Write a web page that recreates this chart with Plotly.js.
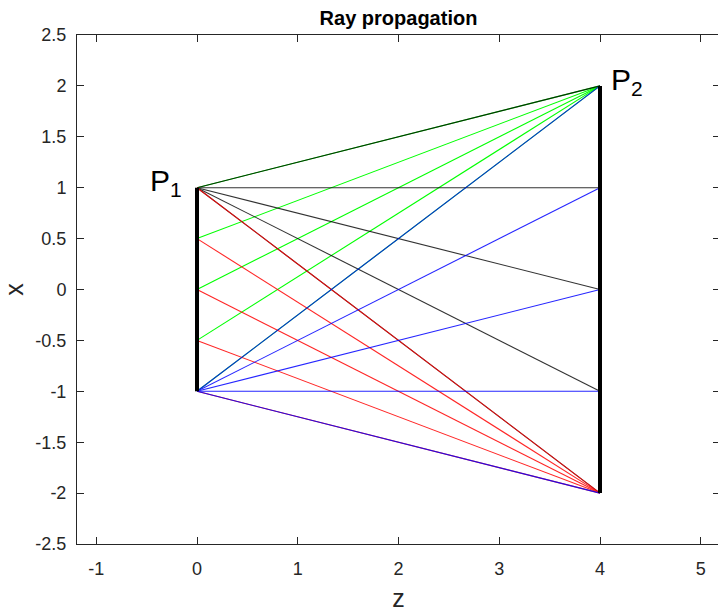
<!DOCTYPE html>
<html>
<head>
<meta charset="utf-8">
<script src="https://cdn.plot.ly/plotly-3.0.1.min.js"></script>
<style>
html,body{margin:0;padding:0;overflow:hidden;background:#fff;}
#chart{width:722px;height:612px;}
</style>
</head>
<body>
<div id="chart"></div>
<script>
// Aperture positions (z) and sampled points (x)
const z1 = 0;
const z2 = 4;
const p1Points = [1, 0.5, 0, -0.5, -1];
const p2Points = [2, 1, 0, -1, -2];
const xTickVals = [-1, 0, 1, 2, 3, 4, 5];
const xTickText = ["-1", "0", "1", "2", "3", "4", "5"];
const yTickVals = [-2.5, -2, -1.5, -1, -0.5, 0, 0.5, 1, 1.5, 2, 2.5];
const yTickText = ["-2.5", "-2", "-1.5", "-1", "-0.5", "0", "0.5", "1", "1.5", "2", "2.5"];

function fan(fromZ, fromXs, toZ, toXs) {
  const xs = [], ys = [];
  for (const a of fromXs) {
    for (const b of toXs) {
      xs.push(fromZ, toZ, null);
      ys.push(a, b, null);
    }
  }
  return {x: xs, y: ys};
}

const p1Top = p1Points[0];
const p1Bot = p1Points[p1Points.length - 1];
const p2Top = p2Points[0];
const p2Bot = p2Points[p2Points.length - 1];

const greenRays = fan(z1, p1Points, z2, [p2Top]);
const redRays = fan(z1, p1Points, z2, [p2Bot]);
const blackRays = fan(z1, [p1Top], z2, p2Points);
const blueRays = fan(z1, [p1Bot], z2, p2Points);

function lineTrace(d, color, width, opacity) {
  return {x: d.x, y: d.y, mode: 'lines', type: 'scatter', hoverinfo: 'skip',
    line: {color: color, width: width}, opacity: opacity === undefined ? 1 : opacity, showlegend: false};
}

const traces = [
  lineTrace(greenRays, '#00ff00', 1.1),
  lineTrace(blackRays, '#000000', 1.1, 0.8),
  lineTrace(redRays, '#ff0000', 1.1, 0.85),
  lineTrace(blueRays, '#0000ff', 1.1, 0.85),
  lineTrace({x: [z1, z1, null, z2, z2], y: [p1Top, p1Bot, null, p2Top, p2Bot]}, '#000000', 4)
];

const tickFont = {family: 'Arial, "Liberation Sans", Helvetica, sans-serif', size: 18, color: '#262626'};
const layout = {
  width: 722, height: 612,
  margin: {l: 77, r: 2, t: 35, b: 68},
  paper_bgcolor: '#ffffff', plot_bgcolor: '#ffffff',
  showlegend: false,
  title: {text: '<b>Ray propagation</b>', font: {family: 'Arial, "Liberation Sans", sans-serif', size: 20, color: '#000'},
    x: 0.5, xref: 'paper', y: 0.97, yref: 'container', yanchor: 'middle'},
  xaxis: {
    range: [-1.191, 5.191], tickvals: xTickVals, ticktext: xTickText,
    ticks: 'inside', ticklen: 7, tickwidth: 1, tickcolor: '#262626',
    showline: true, linecolor: '#262626', linewidth: 1, mirror: 'ticks',
    showgrid: false, zeroline: false, tickfont: tickFont, ticklabelstandoff: 8,
    title: {text: 'z', font: {family: 'Arial, "Liberation Sans", sans-serif', size: 25, color: '#262626'}, standoff: 14}
  },
  yaxis: {
    range: [-2.5, 2.5], tickvals: yTickVals, ticktext: yTickText,
    ticks: 'inside', ticklen: 7, tickwidth: 1, tickcolor: '#262626',
    showline: true, linecolor: '#262626', linewidth: 1, mirror: 'ticks',
    showgrid: false, zeroline: false, tickfont: tickFont, ticklabelstandoff: 6,
    title: {text: 'x', font: {family: 'Arial, "Liberation Sans", sans-serif', size: 25, color: '#262626'}, standoff: 14}
  },
  annotations: [
    {x: -0.13, y: 1.05, xref: 'x', yref: 'y', text: 'P<sub>1</sub>', showarrow: false,
      xanchor: 'right', yanchor: 'middle', font: {family: 'Arial, "Liberation Sans", sans-serif', size: 30, color: '#000'}},
    {x: 4.09, y: 2.04, xref: 'x', yref: 'y', text: 'P<sub>2</sub>', showarrow: false,
      xanchor: 'left', yanchor: 'middle', font: {family: 'Arial, "Liberation Sans", sans-serif', size: 30, color: '#000'}}
  ]
};

Plotly.newPlot('chart', traces, layout, {displayModeBar: false, staticPlot: true});
</script>
</body>
</html>
